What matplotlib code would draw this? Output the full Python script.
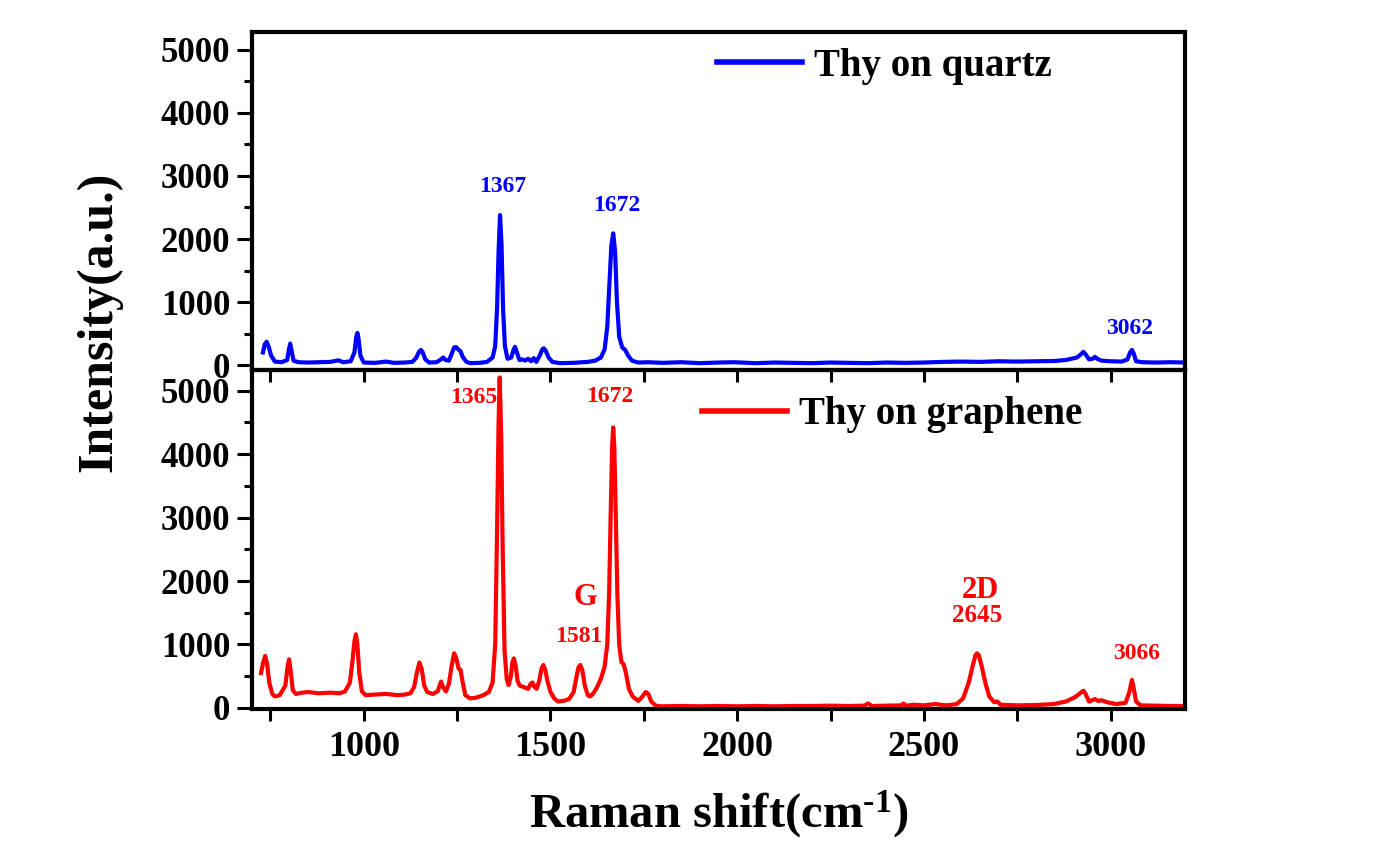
import matplotlib
matplotlib.use("Agg")
import matplotlib.pyplot as plt
from matplotlib.ticker import MultipleLocator

plt.rcParams['font.family'] = ['Liberation Serif', 'DejaVu Serif']
plt.rcParams['font.weight'] = 'bold'
plt.rcParams['axes.labelweight'] = 'bold'
plt.rcParams['mathtext.fontset'] = 'custom'
plt.rcParams['mathtext.rm'] = 'Liberation Serif:bold'
plt.rcParams['mathtext.default'] = 'rm'

# ---- data ----
quartz_x = [730, 735, 740, 745, 752, 762, 780, 795, 800, 803, 806, 812, 825, 850, 880, 910,
            932, 945, 965, 975, 980, 983, 986, 991, 1000, 1030, 1060, 1080, 1110, 1130,
            1140, 1148, 1153, 1158, 1165, 1175, 1195, 1207, 1213, 1219, 1228, 1235, 1242,
            1247, 1254, 1259, 1265, 1275, 1285, 1310, 1330, 1345, 1352, 1357, 1361, 1365,
            1369, 1373, 1378, 1385, 1395, 1401, 1405, 1410, 1417, 1425, 1432, 1440, 1448,
            1455, 1462, 1472, 1478, 1482, 1487, 1495, 1505, 1525, 1560, 1600, 1620, 1635,
            1645, 1652, 1658, 1663, 1668, 1673, 1678, 1684, 1692, 1700, 1708, 1718, 1735,
            1760, 1800, 1850, 1900, 1950, 1990, 2050, 2100, 2150, 2200, 2250, 2300, 2350,
            2400, 2450, 2500, 2550, 2600, 2650, 2700, 2750, 2800, 2850, 2880, 2910, 2922,
            2927, 2933, 2942, 2952, 2958, 2964, 2975, 3000, 3030, 3045, 3052, 3057, 3062,
            3068, 3085, 3120, 3160, 3200]
quartz_y = [200, 330, 370, 300, 150, 55, 45, 80, 260, 340, 250, 70, 45, 40, 45, 50,
            75, 45, 60, 200, 450, 510, 420, 150, 40, 35, 55, 35, 40, 50,
            110, 210, 240, 200, 90, 40, 45, 90, 120, 80, 70, 170, 280,
            285, 240, 220, 130, 50, 30, 35, 50, 120, 300, 900, 1800, 2380,
            1900, 900, 300, 100, 120, 240, 290, 200, 80, 90, 70, 100, 60,
            110, 50, 160, 250, 265, 230, 120, 50, 30, 35, 50, 70, 120,
            250, 600, 1300, 1900, 2090, 1800, 1000, 450, 280, 240, 150, 70, 40,
            45, 35, 45, 30, 40, 45, 30, 40, 35, 30, 40, 35, 30,
            40, 35, 40, 50, 55, 50, 60, 55, 60, 65, 80, 120, 180,
            210, 170, 90, 100, 130, 100, 70, 60, 55, 90, 200, 240, 180,
            60, 45, 40, 45, 40]

graphene_x = [725, 730, 736, 741, 747, 755, 762, 775, 790, 796, 800, 804, 810, 818, 835, 850,
              880, 910, 935, 950, 963, 970, 975, 979, 983, 988, 995, 1005, 1030, 1060, 1090,
              1110, 1125, 1135, 1142, 1149, 1155, 1162, 1170, 1185, 1198, 1203, 1207, 1212,
              1220, 1228, 1235, 1242, 1247, 1254, 1259, 1265, 1272, 1285, 1300, 1320, 1335,
              1345, 1352, 1357, 1361, 1364, 1368, 1372, 1377, 1383, 1388, 1394, 1398, 1402,
              1407, 1412, 1418, 1428, 1440, 1447, 1452, 1457, 1463, 1470, 1476, 1481, 1486,
              1492, 1500, 1510, 1520, 1535, 1550, 1562, 1570, 1575, 1580, 1585, 1592, 1600,
              1606, 1615, 1625, 1635, 1645, 1652, 1657, 1661, 1665, 1668, 1671, 1675, 1679,
              1684, 1690, 1696, 1702, 1710, 1720, 1735, 1745, 1755, 1762, 1770, 1783, 1800,
              1850, 1900, 1950, 2000, 2050, 2100, 2150, 2200, 2250, 2300, 2340, 2351, 2360,
              2400, 2440, 2445, 2452, 2472, 2500, 2530, 2560, 2588, 2605, 2620, 2630, 2638,
              2642, 2647, 2655, 2665, 2675, 2688, 2697, 2705, 2750, 2800, 2847, 2880, 2905,
              2920, 2927, 2933, 2942, 2950, 2958, 2966, 2975, 2990, 3015, 3040, 3050, 3057,
              3062, 3068, 3080, 3120, 3160, 3200]
graphene_y = [550, 700, 820, 700, 400, 220, 180, 200, 350, 650, 765, 600, 280, 220, 240, 250,
              230, 240, 230, 260, 400, 750, 1050, 1160, 1000, 550, 260, 200, 210, 220, 200,
              210, 230, 330, 550, 715, 620, 350, 250, 220, 260, 350, 415, 330,
              260, 380, 650, 860, 800, 620, 600, 400, 200, 150, 160, 200, 250,
              400, 1000, 2800, 4500, 5210, 4300, 2500, 900, 450, 360, 500, 720, 780,
              650, 420, 350, 330, 300, 380, 400, 330, 300, 430, 620, 676, 600,
              420, 250, 150, 100, 110, 140, 250, 500, 640, 676, 600, 350, 200,
              180, 230, 330, 460, 650, 1000, 1800, 3000, 4100, 4423, 4100, 3000, 1800,
              1000, 720, 690, 550, 300, 180, 110, 170, 250, 220, 100, 30, 25,
              30, 25, 30, 25, 30, 25, 30, 30, 35, 30, 35, 70, 30,
              35, 40, 70, 35, 50, 40, 60, 40, 60, 150, 400, 650, 830,
              860, 830, 650, 380, 180, 90, 100, 50, 40, 45, 60, 100, 170,
              240, 270, 220, 100, 120, 140, 110, 120, 90, 60, 80, 250, 440,
              300, 100, 40, 35, 30, 30]

quartz_labels = [("1367", 1373, 2750), ("1672", 1678, 2450), ("3062", 3050, 490)]
graphene_labels = [("1365", 1295, 4800, 17), ("1672", 1660, 4830, 17), ("G", 1593, 1620, 22),
                   ("1581", 1575, 1042, 17), ("2D", 2650, 1734, 22), ("2645", 2641, 1357, 18),
                   ("3066", 3070, 770, 17)]

xticks = [1000, 1500, 2000, 2500, 3000]
yticks = [0, 1000, 2000, 3000, 4000, 5000]

BLUE = '#0000ff'
RED = '#ff0000'

fig = plt.figure(figsize=(13.74, 8.65), dpi=100)
L, W = 0.1832, 0.6795
ax2 = fig.add_axes([L, 0.1809, W, 0.3919])
ax1 = fig.add_axes([L, 0.5728, W, 0.3906], sharex=ax2)
ax1.set_zorder(3)
ax1.patch.set_alpha(0)

ax1.plot(quartz_x, quartz_y, color=BLUE, lw=3, label='Thy on quartz')
ax2.plot(graphene_x, graphene_y, color=RED, lw=3, label='Thy on graphene')

ax1.set_xlim(700, 3200)
ax1.set_ylim(-71, 5290)
ax2.set_ylim(-10, 5335)

for ax in (ax1, ax2):
    for s in ax.spines.values():
        s.set_linewidth(3)
    ax.set_yticks(yticks)
    ax.yaxis.set_minor_locator(MultipleLocator(500))
    ax.set_xticks(xticks)
    ax.xaxis.set_minor_locator(MultipleLocator(250))
    ax.tick_params(axis='y', which='major', direction='out', length=10.5, width=2.2,
                   labelsize=25, pad=5)
    ax.tick_params(axis='y', which='minor', direction='out', length=5.5, width=2.2)
    ax.tick_params(axis='x', which='both', direction='out', length=8.5, width=2.2,
                   labelsize=26, pad=8)
    ax.tick_params(top=False, right=False)

ax1.tick_params(axis='x', which='both', labelbottom=False)

for t, x, y in quartz_labels:
    ax1.text(x, y, t, color=BLUE, fontsize=17, ha='center', va='baseline', fontweight='bold')
for t, x, y, fs in graphene_labels:
    ax2.text(x, y, t, color=RED, fontsize=fs, ha='center', va='baseline', fontweight='bold')

leg1 = ax1.legend(loc='center left', bbox_to_anchor=(0.498, 0.897), frameon=False,
                  fontsize=28, handlelength=2.2, handletextpad=0.3, borderpad=0,
                  borderaxespad=0)
for h in leg1.get_lines():
    h.set_linewidth(4)
leg2 = ax2.legend(loc='center left', bbox_to_anchor=(0.482, 0.866), frameon=False,
                  fontsize=28, handlelength=2.2, handletextpad=0.3, borderpad=0,
                  borderaxespad=0)
for h in leg2.get_lines():
    h.set_linewidth(4)

ax2.set_xlabel(r'Raman shift(cm$^{\text{-1}}$)', fontsize=35, fontweight='bold', labelpad=17)
fig.text(0.0725, 0.628, 'Intensity(a.u.)', rotation=90, fontsize=36, fontweight='bold',
         ha='center', va='center')

fig.savefig('out.png', dpi=100)
